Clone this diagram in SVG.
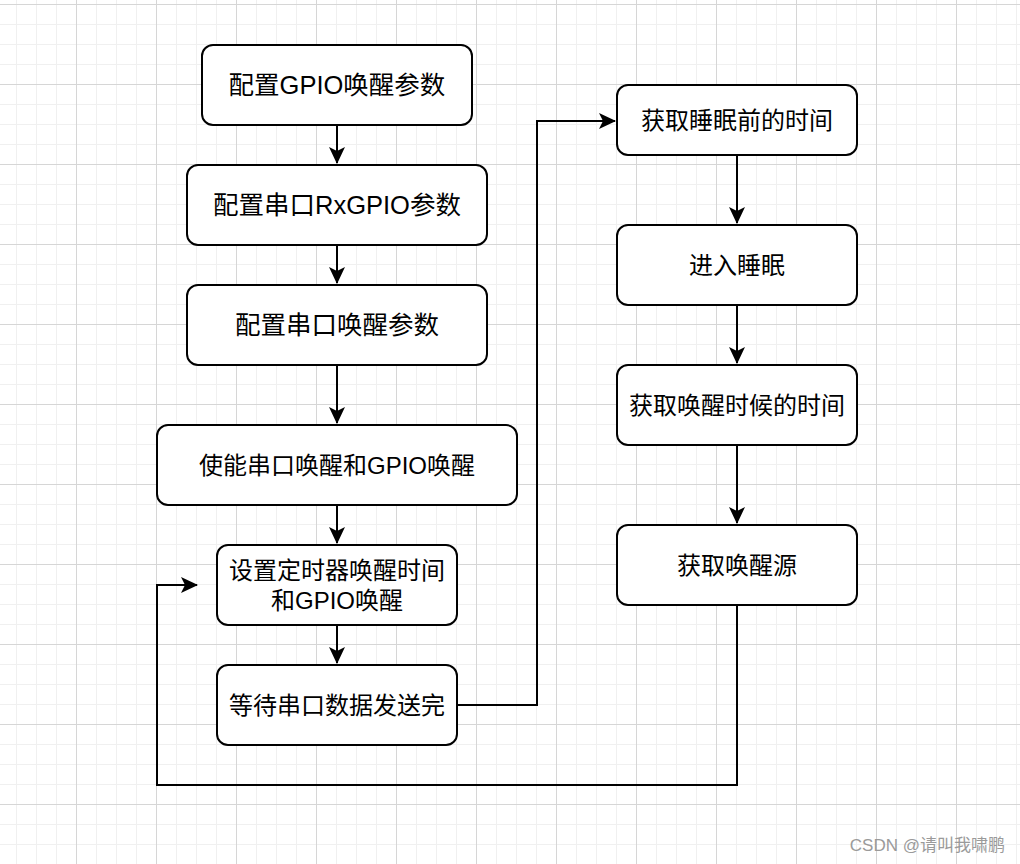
<svg xmlns="http://www.w3.org/2000/svg" width="1020" height="864" viewBox="0 0 1020 864">
<defs>
<pattern id="minor" x="16" y="4" width="20" height="20" patternUnits="userSpaceOnUse">
<path d="M0.5 0V20M0 0.5H20" fill="none" stroke="#f0f0f0" stroke-width="1"/>
</pattern>
<pattern id="major" x="76" y="4" width="80" height="80" patternUnits="userSpaceOnUse">
<path d="M0.5 0V80M0 0.5H80" fill="none" stroke="#d6d6d6" stroke-width="1"/>
</pattern>
<marker id="arr" viewBox="0 0 17 16" refX="16" refY="8" markerWidth="17" markerHeight="16" markerUnits="userSpaceOnUse" orient="auto">
<path d="M0 0L17 8L0 16L4 8Z" fill="#000"/>
</marker>
<style>
.box{fill:#fff;stroke:#000;stroke-width:2}
.t{font-family:'Liberation Sans','Noto Sans CJK SC',sans-serif;font-size:24px;fill:#000;text-anchor:middle;dominant-baseline:central}
.tl{font-size:25.5px}
.edge{fill:none;stroke:#000;stroke-width:2}
</style>
</defs>
<rect width="1020" height="864" fill="#fff"/>
<rect width="1020" height="864" fill="url(#minor)"/>
<rect width="1020" height="864" fill="url(#major)"/>
<g id="connectors">
<path class="edge" d="M337 125V163" marker-end="url(#arr)"/>
<path class="edge" d="M337 245V283" marker-end="url(#arr)"/>
<path class="edge" d="M337 365V423" marker-end="url(#arr)"/>
<path class="edge" d="M337 505V543" marker-end="url(#arr)"/>
<path class="edge" d="M337 625V663" marker-end="url(#arr)"/>
<path class="edge" d="M457 705H537V121H615" marker-end="url(#arr)"/>
<path class="edge" d="M737 155V223" marker-end="url(#arr)"/>
<path class="edge" d="M737 305V363" marker-end="url(#arr)"/>
<path class="edge" d="M737 445V523" marker-end="url(#arr)"/>
<path class="edge" d="M737 605V785H157V585H197" marker-end="url(#arr)"/>
</g>
<g id="n1"><rect class="box" x="202" y="45" width="270" height="80" rx="11"/><text class="t tl" x="337" y="85">配置GPIO唤醒参数</text></g>
<g id="n2"><rect class="box" x="187" y="165" width="300" height="80" rx="11"/><text class="t tl" x="337" y="205">配置串口RxGPIO参数</text></g>
<g id="n3"><rect class="box" x="187" y="285" width="300" height="80" rx="11"/><text class="t tl" x="337" y="325">配置串口唤醒参数</text></g>
<g id="n4"><rect class="box" x="157" y="425" width="360" height="80" rx="11"/><text class="t" x="337" y="465">使能串口唤醒和GPIO唤醒</text></g>
<g id="n5"><rect class="box" x="217" y="545" width="240" height="80" rx="11"/><text class="t" x="337" y="570">设置定时器唤醒时间</text><text class="t" x="337" y="600">和GPIO唤醒</text></g>
<g id="n6"><rect class="box" x="217" y="665" width="240" height="80" rx="11"/><text class="t" x="337" y="705">等待串口数据发送完</text></g>
<g id="n7"><rect class="box" x="617" y="85" width="240" height="70" rx="11"/><text class="t" x="737" y="120">获取睡眠前的时间</text></g>
<g id="n8"><rect class="box" x="617" y="225" width="240" height="80" rx="11"/><text class="t" x="737" y="265">进入睡眠</text></g>
<g id="n9"><rect class="box" x="617" y="365" width="240" height="80" rx="11"/><text class="t" x="737" y="405">获取唤醒时候的时间</text></g>
<g id="n10"><rect class="box" x="617" y="525" width="240" height="80" rx="11"/><text class="t" x="737" y="565">获取唤醒源</text></g>
<text x="1005" y="845" font-family="'Liberation Sans','Noto Sans CJK SC',sans-serif" font-size="17" fill="#9a9a9a" text-anchor="end" dominant-baseline="central">CSDN @请叫我啸鹏</text>
</svg>
